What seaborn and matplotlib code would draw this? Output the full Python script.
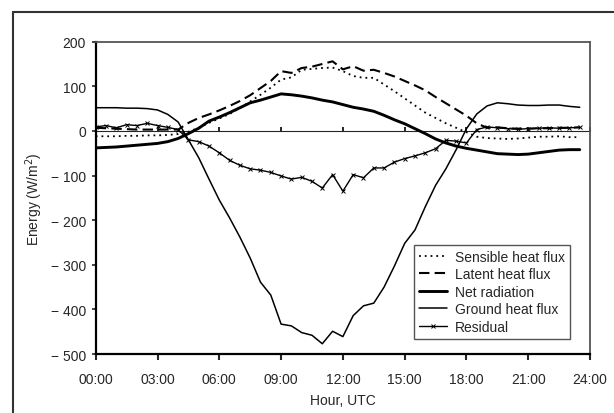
import numpy as np
import pandas as pd
import seaborn as sns
import matplotlib.pyplot as plt
from matplotlib.lines import Line2D
from matplotlib.ticker import FuncFormatter

# half-hourly values, 00:00 .. 23:30 UTC
hours = np.arange(0, 24, 0.5)

sensible = [-12, -12, -12, -11, -11, -10, -10, -9, -7, -2, 7, 18, 28, 38, 51, 66,
            81, 97, 115, 120, 137, 139, 141, 142, 134, 123, 119, 119, 104, 89, 73, 57,
            41, 29, 17, 7, -3, -13, -16, -17, -18, -17, -15, -13, -13, -12, -14, -14]
latent = [7, 6, 5, 4, 3, 3, 3, 3, 3, 18, 29, 37, 46, 56, 67, 80,
          96, 112, 134, 130, 141, 144, 150, 156, 138, 145, 135, 137, 130, 122, 112, 102,
          91, 76, 62, 48, 34, 17, 7, 8, 6, 5, 5, 6, 6, 7, 7, 8]
net_rad = [-38, -37, -36, -34, -32, -30, -28, -24, -17, -6, 6, 22, 31, 41, 52, 63,
           69, 76, 83, 81, 78, 74, 69, 65, 59, 53, 49, 44, 35, 25, 16, 5,
           -6, -18, -27, -34, -39, -43, -47, -51, -52, -53, -52, -49, -46, -43, -42, -42]
ground = [52, 52, 52, 51, 51, 50, 47, 37, 20, -20, -60, -108, -155, -195, -238, -285,
          -339, -368, -433, -437, -452, -458, -477, -449, -461, -414, -392, -386, -350, -303, -252, -222,
          -170, -122, -85, -42, 5, 38, 56, 63, 61, 58, 57, 57, 58, 58, 55, 53]
residual = [9, 12, 7, 14, 12, 17, 12, 8, 3, -20, -24, -34, -49, -66, -77, -85,
            -88, -93, -101, -108, -104, -113, -128, -98, -135, -98, -105, -83, -83, -70, -62, -56,
            -49, -40, -21, -23, -27, 3, 9, 7, 5, 4, 5, 6, 7, 6, 7, 8]

xticks = list(range(0, 25, 3))
xtick_labels = ['00:00', '03:00', '06:00', '09:00', '12:00', '15:00', '18:00', '21:00', '24:00']
yticks = list(range(-500, 201, 100))

df = pd.DataFrame({'hour': hours, 'Sensible heat flux': sensible, 'Latent heat flux': latent,
                   'Net radiation': net_rad, 'Ground heat flux': ground, 'Residual': residual})

sns.set_style('white')
plt.rcParams['font.family'] = ['Liberation Sans', 'DejaVu Sans']
fs = 10

fig = plt.figure(figsize=(6.14, 4.14), dpi=100)
ax = fig.add_axes([0.1559, 0.1425, 0.961 - 0.1559, 0.8969 - 0.1425])

sns.lineplot(data=df, x='hour', y='Sensible heat flux', ax=ax, color='black', lw=1.3,
             linestyle=(0, (1, 2.2)), label='Sensible heat flux')
sns.lineplot(data=df, x='hour', y='Latent heat flux', ax=ax, color='black', lw=1.5,
             linestyle=(0, (5, 2.5)), label='Latent heat flux')
sns.lineplot(data=df, x='hour', y='Net radiation', ax=ax, color='black', lw=2.1,
             label='Net radiation')
sns.lineplot(data=df, x='hour', y='Ground heat flux', ax=ax, color='black', lw=1.1,
             label='Ground heat flux')
sns.lineplot(data=df, x='hour', y='Residual', ax=ax, color='black', lw=1.0,
             marker='x', markersize=3, markeredgewidth=0.7, markeredgecolor='black',
             label='Residual')

ax.set_xlim(0, 24)
ax.set_ylim(-500, 200)
ax.set_xticks(xticks)
ax.set_xticklabels(xtick_labels)
ax.set_yticks(yticks)
ax.yaxis.set_major_formatter(FuncFormatter(lambda v, p: f'\u2212 {abs(int(v))}' if v < 0 else f'{int(v)}'))

ax.set_xlabel('Hour, UTC', fontsize=fs, labelpad=5)
ax.set_ylabel('Energy (W/m$^2$)', fontsize=fs, labelpad=4)
ax.tick_params(axis='x', direction='out', length=4, width=1.5, pad=9, labelsize=fs, bottom=True)
ax.tick_params(axis='y', direction='out', length=3, width=1.2, pad=4, labelsize=fs, left=True)

for s in ['left', 'bottom']:
    ax.spines[s].set_color('black')
    ax.spines[s].set_linewidth(1.6)
for s in ['top', 'right']:
    ax.spines[s].set_color('#555555')
    ax.spines[s].set_linewidth(1.3)

# horizontal axis crossing at zero, with its own tick marks
sec = ax.secondary_xaxis((0 - (-500)) / 700)
sec.set_xticks(xticks)
sec.set_xticklabels([])
sec.tick_params(axis='x', direction='out', length=3, width=1.2, colors='black')
sec.spines['bottom'].set_linewidth(1.3)
sec.spines['bottom'].set_color('black')

leg = ax.legend(loc='lower right', bbox_to_anchor=(0.973, 0.027), fontsize=fs,
                frameon=True, fancybox=False, framealpha=1, edgecolor='#555555',
                handlelength=2.0, handletextpad=0.6, labelspacing=0.25, borderpad=0.35)
leg.get_frame().set_linewidth(1.0)

# outer frame (top and left edges visible in the crop)
fig.add_artist(Line2D([0.0217, 1.0], [1 - 13.3 / 414] * 2, transform=fig.transFigure,
                      color='#333333', lw=1.5))
fig.add_artist(Line2D([0.0217, 0.0217], [0.0, 1 - 13.3 / 414], transform=fig.transFigure,
                      color='#333333', lw=1.5))

fig.savefig('out.png', dpi=100, facecolor='white')
